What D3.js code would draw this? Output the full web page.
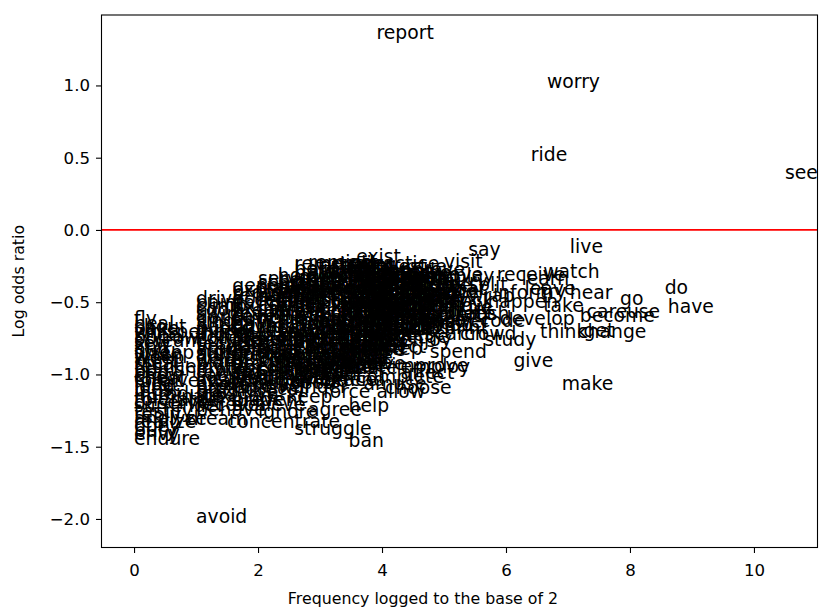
<!DOCTYPE html>
<html>
<head>
<meta charset="utf-8">
<script src="https://cdn.jsdelivr.net/npm/d3@7"></script>
<style>
  body { margin: 0; background: #fff; }
  svg { display: block; font-family: "DejaVu Sans", sans-serif; }
</style>
</head>
<body>
<div id="chart"></div>
<script>
// verbs grouped by their (log2) frequency column
const columnFreq = [0, 1, 1.585, 2, 2.32, 2.585, 2.807, 3, 3.17, 3.32, 3.46, 3.585, 3.7, 3.81, 3.91, 4.0, 4.1, 4.2, 4.3, 4.46, 4.6, 4.9, 5.0, 5.39];

const columnWords = [
  ["fly","heal","shout","bake","whisper","kneel","borrow","scream","sew","knit","hug","sweep","wash","weep","hunt","steal","rescue","punish","beg","chew","cheat","forgive","hide","lend","bless","introduce","nominate","tolerate","deserve","surrender","testify","reply","analyze","realize","obey","bury","envy","endure"],
  ["drive","paint","climb","cook","swim","dance","sing","jump","pack","guess","marry","invent","collect","donate","recycle","vote","argue","suffer","admire","delay","warn","blame","invite","protest","reward","sacrifice","inspire","adapt","examine","prefer","attend","preserve","persuade","recover","behave","avoid"],
  ["generate","explain","protect","remain","accept","earn","fix","prepare","reach","save","fight","gain","cover","fill","involve","manage","pass","lose","raise","handle","relax","control","discuss","produce","encourage","express","reduce","resolve","prevent","achieve"],
  ["serve","share","travel","imagine","support","relate","count","carry","join","hope","wait","trust","respect","plan","notice","afford","depend","appreciate","treat","contribute","communicate","compete","apply","survive","succeed","recall","ignore"],
  ["hold","belong","mean","build","open","close","sell","send","pick","break","draw","catch","drink","eat","sleep","walk","run","sit","stand","rest","finish","interact","maintain","gamble","wander"],
  ["remember","believe","hate","love","like","want","need","let","put","call","ask","tell","turn","move","bring","begin","seem","meet","include","continue","set","stop","create","absorb","tackle","embrace","struggle"],
  ["remind","attract","compare","describe","discover","enter","establish","fail","feed","follow","hang","hurt","identify","kill","lie","mention","fear","translate","negotiate","agree"],
  ["attempt","wonder","recognize","suggest","offer","return","provide","expect","consider","suppose","wish","require","remove","reveal","promote","limit","assume","refuse","extend"],
  ["shape","test","mind","form","design","engage","admit","listen","claim","check","fit","cost","perform","replace","obtain","occur","cause","teach"],
  ["train","focus","hit","rely","wear","drop","push","pull","throw","kick","touch","settle","connect","stay","last","shine","grab","wake","rise"],
  ["act","fall","sound","smell","taste","look","appear","vary","matter","rule","list","fund","link","mark","press","pause","bear","help","ban"],
  ["exist","deal","end","lack","own","state","figure","note","view","face","miss","pay","win","solve","complete"],
  ["practice","arrive","adjust","assist","measure","rate","score","shift","track","sort","boost","host","store","copy","amuse"],
  ["invest","cross","escape","reject","release","deliver","respond","predict","attack","defend","quit","please","bother","mix","select"],
  ["report","observe","operate","function","confirm","convince","justify","react","destroy","divide","emerge","allow"],
  ["pursue","secure","seek","tend","advise","deny","flow","gather","regret","step"],
  ["approve","attach","capture","celebrate","define","dig","dress","drag"],
  ["rent","repeat","roll","spread","ring","shake","shoot","sign","sink"],
  ["burn","cut","cry","fold","hire","lift","load","pour","enjoy","employ","affect"],
  ["bend","blow","bounce","brush","bump","calculate","chase","crash"],
  ["strike","dare","drift","elect"],
  ["hurry","jog","knock","lay","melt","nod"],
  ["visit","float","fry","glow","greet","pin","print"],
  ["say","split","wrap","tie","rush"]
];

const columnOdds = [
  [-0.66,-0.69,-0.71,-0.73,-0.75,-0.77,-0.79,-0.81,-0.83,-0.85,-0.87,-0.89,-0.91,-0.93,-0.95,-0.97,-0.99,-1.01,-1.03,-1.05,-1.07,-1.09,-1.11,-1.13,-1.15,-1.18,-1.20,-1.22,-1.24,-1.26,-1.30,-1.32,-1.35,-1.37,-1.40,-1.43,-1.455,-1.49],
  [-0.52,-0.545,-0.57,-0.595,-0.62,-0.645,-0.67,-0.69,-0.71,-0.73,-0.75,-0.77,-0.79,-0.81,-0.83,-0.85,-0.87,-0.89,-0.91,-0.93,-0.95,-0.97,-0.99,-1.01,-1.03,-1.05,-1.07,-1.09,-1.11,-1.13,-1.15,-1.17,-1.22,-1.25,-1.29,-2.03],
  [-0.43,-0.455,-0.48,-0.50,-0.525,-0.55,-0.575,-0.60,-0.62,-0.645,-0.665,-0.69,-0.71,-0.73,-0.755,-0.775,-0.80,-0.82,-0.845,-0.865,-0.89,-0.91,-0.935,-0.96,-1.0,-1.04,-1.08,-1.12,-1.22,-1.25],
  [-0.38,-0.41,-0.44,-0.47,-0.50,-0.53,-0.56,-0.59,-0.62,-0.65,-0.68,-0.71,-0.74,-0.77,-0.80,-0.83,-0.86,-0.89,-0.92,-0.95,-0.98,-1.01,-1.04,-1.07,-1.10,-1.14,-1.30],
  [-0.36,-0.39,-0.42,-0.45,-0.48,-0.51,-0.54,-0.57,-0.60,-0.63,-0.66,-0.69,-0.72,-0.75,-0.78,-0.81,-0.84,-0.87,-0.90,-0.93,-0.97,-1.01,-1.05,-1.09,-1.13],
  [-0.28,-0.31,-0.34,-0.37,-0.40,-0.43,-0.46,-0.49,-0.52,-0.55,-0.58,-0.61,-0.64,-0.67,-0.70,-0.73,-0.76,-0.79,-0.82,-0.85,-0.88,-0.92,-0.96,-1.00,-1.04,-1.08,-1.42],
  [-0.27,-0.32,-0.36,-0.40,-0.44,-0.48,-0.52,-0.56,-0.60,-0.64,-0.68,-0.72,-0.76,-0.80,-0.84,-0.88,-0.92,-0.96,-1.00,-1.29],
  [-0.29,-0.33,-0.37,-0.41,-0.45,-0.49,-0.53,-0.57,-0.61,-0.65,-0.69,-0.73,-0.77,-0.81,-0.85,-0.89,-0.93,-0.97,-1.08],
  [-0.29,-0.33,-0.37,-0.41,-0.45,-0.49,-0.53,-0.57,-0.61,-0.65,-0.69,-0.73,-0.77,-0.81,-0.85,-0.89,-0.93,-0.98],
  [-0.28,-0.32,-0.36,-0.40,-0.44,-0.48,-0.52,-0.56,-0.60,-0.64,-0.68,-0.72,-0.76,-0.80,-0.84,-0.88,-0.92,-0.96,-1.00],
  [-0.27,-0.31,-0.35,-0.39,-0.43,-0.47,-0.51,-0.55,-0.59,-0.63,-0.67,-0.71,-0.75,-0.79,-0.83,-0.87,-0.91,-1.26,-1.50],
  [-0.23,-0.31,-0.36,-0.41,-0.46,-0.51,-0.56,-0.61,-0.66,-0.71,-0.76,-0.81,-0.85,-0.97,-1.06],
  [-0.28,-0.36,-0.40,-0.44,-0.48,-0.52,-0.56,-0.60,-0.64,-0.68,-0.72,-0.76,-0.80,-0.84,-1.11],
  [-0.30,-0.33,-0.37,-0.41,-0.45,-0.49,-0.53,-0.57,-0.61,-0.65,-0.69,-0.73,-0.77,-0.81,-0.85],
  [1.32,-0.34,-0.38,-0.43,-0.48,-0.53,-0.58,-0.63,-0.68,-0.73,-0.78,-1.16],
  [-0.30,-0.35,-0.40,-0.45,-0.50,-0.55,-0.60,-0.65,-0.70,-0.865],
  [-0.32,-0.37,-0.42,-0.47,-0.52,-0.57,-0.62,-0.67],
  [-0.33,-0.38,-0.43,-0.485,-0.53,-0.58,-0.63,-0.68,-0.73],
  [-0.36,-0.41,-0.46,-0.51,-0.56,-0.61,-0.66,-0.71,-0.80,-0.99,-1.03],
  [-0.37,-0.42,-0.47,-0.52,-0.57,-0.62,-0.67,-0.72],
  [-0.43,-0.50,-0.55,-0.60],
  [-0.40,-0.47,-0.53,-0.58,-0.63,-0.70],
  [-0.26,-0.45,-0.52,-0.57,-0.62,-0.67,-0.72],
  [-0.18,-0.42,-0.50,-0.58,-0.62]
];

// verbs that sit between the columns or stand on their own
const looseWords = ["explore","dream","concentrate","keep","lead","force","choose","improve","answer","search","prove","spend","play","crowd","code","study","happen","inform","receive","develop","give","learn","leave","ride","think","try","take","watch","worry","make","live","hear","change","become","get","care","go","use","do","have","see"];
const looseFreq  = [1.2, 0.85, 1.5, 2.47, 2.95, 3.05, 4.05, 4.15, 4.65, 4.68, 4.77, 4.77, 5.17, 5.26, 5.58, 5.65, 5.7, 5.79, 5.85, 5.9, 6.12, 6.25, 6.3, 6.4, 6.55, 6.55, 6.6, 6.6, 6.66, 6.9, 7.03, 7.03, 7.15, 7.19, 7.25, 7.3, 7.84, 7.95, 8.56, 8.61, 10.5];
const looseOdds  = [-1.19, -1.35, -1.37, -1.20, -1.03, -1.16, -1.135, -0.98, -0.68, -0.76, -0.35, -0.885, -0.36, -0.76, -0.67, -0.80, -0.54, -0.48, -0.35, -0.66, -0.945, -0.38, -0.45, 0.48, -0.75, -0.47, -0.57, -0.33, 0.98, -1.11, -0.16, -0.48, -0.75, -0.64, -0.74, -0.61, -0.52, -0.61, -0.44, -0.575, 0.35];

const xTicks = [0, 2, 4, 6, 8, 10];
const yTicks = [-2.0, -1.5, -1.0, -0.5, 0.0, 0.5, 1.0];

// build one flat list of points
const points = [];
columnFreq.forEach((f, i) => {
    const n = Math.min(columnWords[i].length, columnOdds[i].length);
    for (let j = 0; j < n; j++) points.push({ word: columnWords[i][j], freq: f, odds: columnOdds[i][j] });
});
looseWords.forEach((w, i) => points.push({ word: w, freq: looseFreq[i], odds: looseOdds[i] }));

const width = 819, height = 610;
const plotLeft = 101.5, plotRight = 817.5, plotTop = 15, plotBottom = 547.5;

// matplotlib style 5% margins around the data
const xExt = d3.extent(points, d => d.freq);
const yExt = d3.extent(points, d => d.odds);
const xPad = (xExt[1] - xExt[0]) * 0.05, yPad = (yExt[1] - yExt[0]) * 0.05;

const x = d3.scaleLinear().domain([xExt[0] - xPad, xExt[1] + xPad]).range([plotLeft, plotRight]);
const y = d3.scaleLinear().domain([yExt[0] - yPad, yExt[1] + yPad]).range([plotBottom, plotTop]);

const svg = d3.select("#chart").append("svg")
    .attr("width", width)
    .attr("height", height);

const tickFont = 16.6;
const labelFont = 15.8;
const wordFont = 18.8;
const fmt = v => d3.format(".1f")(v).replace("-", "\u2212");

// axes
const xAxis = svg.append("g")
    .attr("transform", `translate(0,${plotBottom})`)
    .call(d3.axisBottom(x).tickValues(xTicks).tickFormat(d3.format("d")).tickSize(5.5).tickPadding(11));
const yAxis = svg.append("g")
    .attr("transform", `translate(${plotLeft},0)`)
    .call(d3.axisLeft(y).tickValues(yTicks).tickFormat(fmt).tickSize(5.5).tickPadding(6));

[xAxis, yAxis].forEach(g => {
    g.select(".domain").remove();
    g.selectAll(".tick line").attr("stroke", "#000").attr("stroke-width", 1.1);
    g.selectAll(".tick text").attr("fill", "#000")
        .style("font-size", tickFont + "px")
        .style("font-family", "DejaVu Sans");
});
xAxis.selectAll(".tick text").attr("dy", "0.75em");

// zero line
svg.append("line")
    .attr("x1", plotLeft).attr("x2", plotRight)
    .attr("y1", y(0)).attr("y2", y(0))
    .attr("stroke", "#ff0000")
    .attr("stroke-width", 1.8);

// the words, anchored at left / baseline like matplotlib's ax.text
svg.append("g")
    .attr("font-size", wordFont)
    .attr("fill", "#000")
    .selectAll("text")
    .data(points)
    .join("text")
    .attr("x", d => x(d.freq))
    .attr("y", d => y(d.odds))
    .text(d => d.word);

// frame
svg.append("rect")
    .attr("x", plotLeft).attr("y", plotTop)
    .attr("width", plotRight - plotLeft).attr("height", plotBottom - plotTop)
    .attr("fill", "none")
    .attr("stroke", "#000")
    .attr("stroke-width", 1.1);

svg.append("text")
    .attr("x", 423)
    .attr("y", 604)
    .attr("text-anchor", "middle")
    .style("font-size", labelFont + "px")
    .text("Frequency logged to the base of 2");

svg.append("text")
    .attr("transform", `translate(24,${(plotTop + plotBottom) / 2}) rotate(-90)`)
    .attr("text-anchor", "middle")
    .style("font-size", labelFont + "px")
    .text("Log odds ratio");
</script>
</body>
</html>
